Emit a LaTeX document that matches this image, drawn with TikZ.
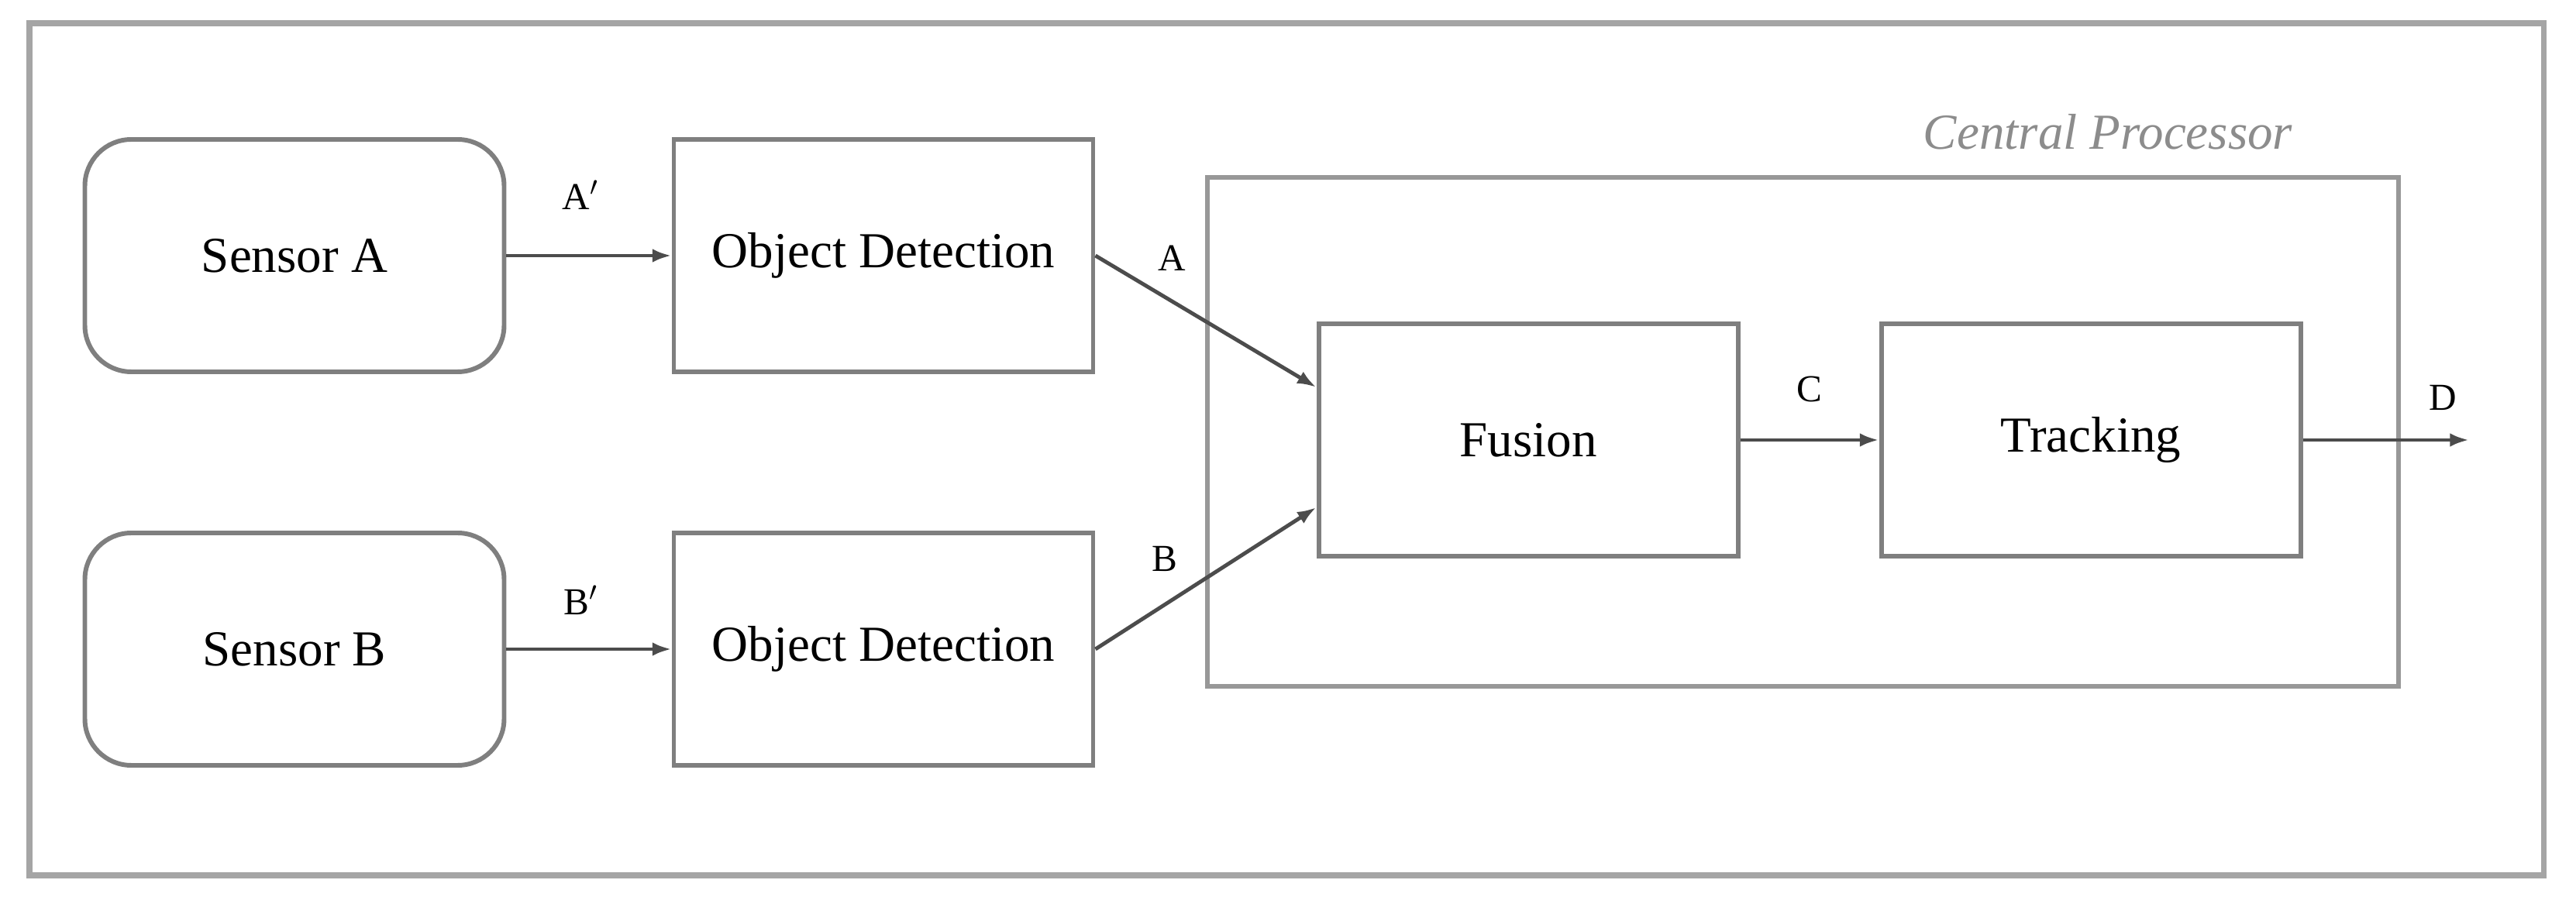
\documentclass[tikz,border=0pt]{standalone}
\usepackage{fontspec}
\setmainfont{Liberation Serif}
\usetikzlibrary{arrows.meta}
\definecolor{boxgray}{HTML}{7F7F7F}
\definecolor{textgray}{HTML}{8C8C8C}
\tikzset{
  block/.style={draw=boxgray, line width=1.7pt, minimum width=5.41cm, minimum height=3.0cm, inner sep=0pt, font=\fontsize{18.5}{20}\selectfont},
  sensor/.style={block, rounded corners=0.6cm},
  link/.style={draw=black!70, line width=1.4pt, -{Latex[length=7pt,width=5pt]}},
  tag/.style={font=\fontsize{14}{16}\selectfont}
}
\begin{document}
\begin{tikzpicture}
\useasboundingbox (0,0) rectangle (33.24,-11.67);
\draw[boxgray!70, line width=2pt] (0.38,-0.30) rectangle (32.82,-11.30);

% Zentrale Einheit
\draw[boxgray!80, line width=1.7pt] (15.58,-2.29) rectangle (30.95,-8.86);
\node[font=\itshape\fontsize{18.5}{20}\selectfont, text=textgray] (cp) at (27.2,-1.70) {Central Processor};

% Bloecke
\node[sensor] (sa) at (3.80,-3.30) {Sensor A};
\node[sensor] (sb) at (3.80,-8.38) {Sensor B};
\node[block] (oda) at (11.40,-3.30) {Object Detection};
\node[block] (odb) at (11.40,-8.38) {Object Detection};
\node[block] (fus) at (19.72,-5.68) {Fusion};
\node[block] (trk) at (26.98,-5.68) {Tracking};
\coordinate (out) at (31.86,-5.68);

% Verbindungen
\draw[link] (sa) -- node[tag, above=0.45cm, pos=0.45] {A$'$} (oda);
\draw[link] (sb) -- node[tag, above=0.3cm, pos=0.45] {B$'$} (odb);
\draw[link] (oda.east) -- (fus.west |- 0,-5.0);
\draw[link] (odb.east) -- (fus.west |- 0,-6.55);
\draw[link] (fus.east) -- node[tag, above=0.35cm] {C} (trk.west);
\draw[link] (trk.east) -- (out);

% Beschriftungen
\node[tag] (la) at (15.12,-3.33) {A};
\node[tag] (lb) at (15.03,-7.21) {B};
\node[tag] (ld) at (31.52,-5.13) {D};
\end{tikzpicture}
\end{document}
